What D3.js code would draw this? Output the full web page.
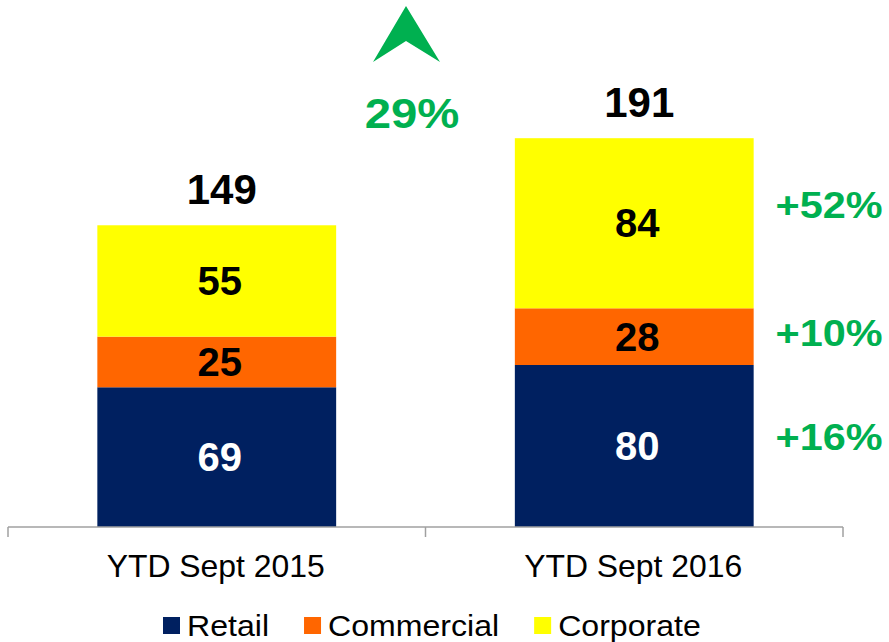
<!DOCTYPE html>
<html>
<head>
<meta charset="utf-8">
<script src="https://cdn.jsdelivr.net/npm/d3@7/dist/d3.min.js"></script>
<style>
  html, body { margin: 0; padding: 0; background: #fff; }
  svg { display: block; font-family: "Liberation Sans", Arial, sans-serif; }
</style>
</head>
<body>
<svg id="chart" width="889" height="642"></svg>
<script>
// ---- data ----
const categories = ["YTD Sept 2015", "YTD Sept 2016"];
const seriesNames = ["Retail", "Commercial", "Corporate"];
const retail = [69, 80];
const commercial = [25, 28];
const corporate = [55, 84];
const totals = [149, 191];
const growthLabels = ["+16%", "+10%", "+52%"]; // Retail, Commercial, Corporate
const totalGrowth = "29%";
const colors = ["#002060", "#FF6600", "#FFFF00"];
const labelColors = ["#ffffff", "#000000", "#000000"];
const green = "#00B050";

const svg = d3.select("#chart");

const x = d3.scaleBand().domain(categories).range([8, 843])
  .paddingInner(0.428).paddingOuter(0.214);
const y = d3.scaleLinear().domain([0, 200]).range([527, 122]);

const rows = categories.map((c, i) => ({cat: c, Retail: retail[i], Commercial: commercial[i], Corporate: corporate[i]}));
const stack = d3.stack().keys(seriesNames)(rows);

// helper: text with slight horizontal stretch
function stretched(g, tx, ty, sx) {
  return g.attr("transform", `translate(${tx},${ty}) scale(${sx},1)`);
}

// bars
stack.forEach((layer, si) => {
  svg.append("g").selectAll("rect").data(layer).join("rect")
    .attr("x", d => x(d.data.cat))
    .attr("width", x.bandwidth())
    .attr("y", d => y(d[1]))
    .attr("height", d => y(d[0]) - y(d[1]))
    .attr("fill", colors[si]);
  svg.append("g").selectAll("text").data(layer).join("text")
    .attr("x", d => x(d.data.cat) + x.bandwidth() / 2 + 3)
    .attr("y", d => (y(d[0]) + y(d[1])) / 2 + 14)
    .attr("text-anchor", "middle")
    .attr("font-size", 40).attr("font-weight", "bold")
    .attr("fill", labelColors[si])
    .text(d => d.data[layer.key]);
});

// totals
svg.append("g").selectAll("text").data(categories).join("text")
  .attr("x", c => x(c) + x.bandwidth() / 2 + 5)
  .attr("y", (c, i) => y(d3.max(stack, l => l[i][1])) - 21)
  .attr("text-anchor", "middle")
  .attr("font-size", 42).attr("font-weight", "bold")
  .attr("fill", "#000")
  .text((c, i) => totals[i]);

// growth labels right of second bar
const growthOffsets = [-9, -4, -18];
const last = categories.length - 1;
svg.append("g").selectAll("text").data(growthLabels).join("text")
  .attr("transform", (g, si) => `translate(829,${(y(stack[si][last][0]) + y(stack[si][last][1])) / 2 + 13 + growthOffsets[si]}) scale(1.12,1)`)
  .attr("text-anchor", "middle")
  .attr("font-size", 37).attr("font-weight", "bold")
  .attr("fill", green)
  .text(g => g);

// arrow + total growth
svg.append("path")
  .attr("d", "M406,6 L440,62 L406,41 L373,62 Z")
  .attr("fill", green);
stretched(svg.append("text"), 412, 128, 1.1)
  .attr("text-anchor", "middle")
  .attr("font-size", 43).attr("font-weight", "bold")
  .attr("fill", green)
  .text(totalGrowth);

// axis
const axisY = y(0);
const c0 = x(categories[0]) + x.bandwidth() / 2;
const c1 = x(categories[1]) + x.bandwidth() / 2;
const tickXs = [x.range()[0], (c0 + c1) / 2, x.range()[1]];
const ax = svg.append("g").attr("stroke", "#a0a0a0").attr("stroke-width", 1.5);
ax.append("line").attr("x1", tickXs[0]).attr("x2", tickXs[2]).attr("y1", axisY).attr("y2", axisY);
ax.selectAll("line.t").data(tickXs).join("line").attr("class", "t")
  .attr("x1", d => d).attr("x2", d => d).attr("y1", axisY).attr("y2", axisY + 10);

svg.append("g").selectAll("text").data(categories).join("text")
  .attr("transform", c => `translate(${x(c) + x.bandwidth() / 2 - 1},577) scale(1.03,1)`)
  .attr("text-anchor", "middle")
  .attr("font-size", 31)
  .attr("fill", "#000")
  .text(c => c);

// legend
const lg = svg.append("g");
let lx = 163;
const lsx = 1.07;
seriesNames.forEach((n, i) => {
  lg.append("rect").attr("x", lx).attr("y", 617).attr("width", 17).attr("height", 17).attr("fill", colors[i]);
  const t = stretched(lg.append("text"), lx + 24, 636, lsx)
    .attr("font-size", 30).attr("fill", "#000").text(n);
  const w = t.node().getComputedTextLength() * lsx;
  lx = lx + 24 + w + 35;
});
</script>
</body>
</html>
